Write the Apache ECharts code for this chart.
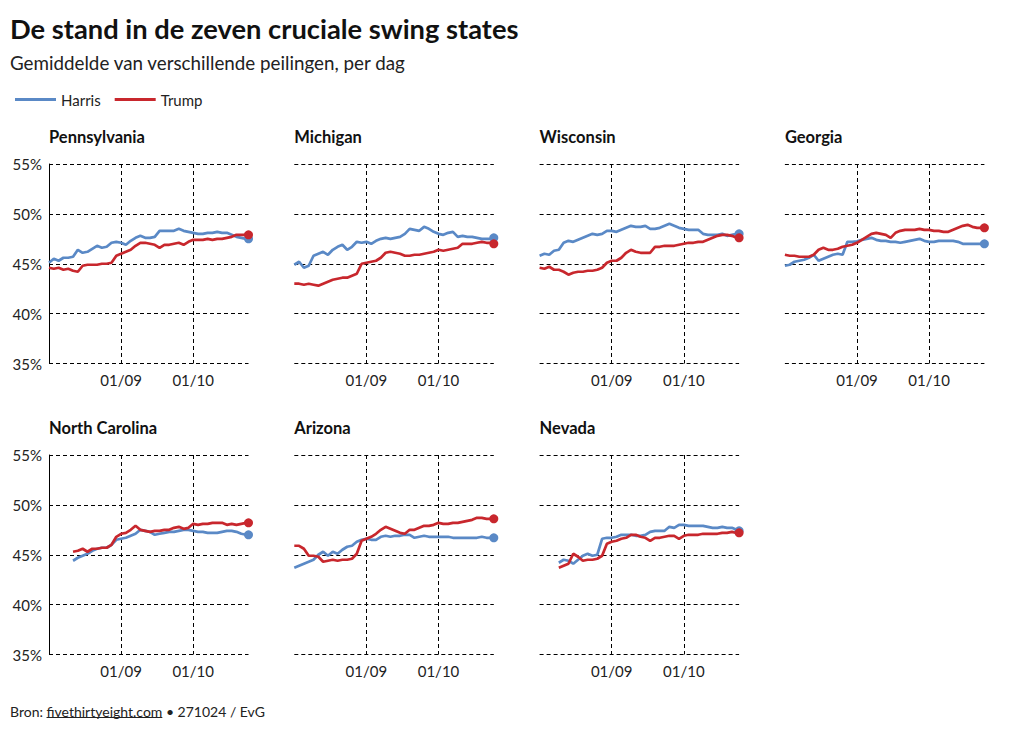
<!DOCTYPE html>
<html><head><meta charset="utf-8">
<script src="https://cdn.jsdelivr.net/npm/echarts@6/dist/echarts.min.js"></script>
<style>html,body{margin:0;padding:0;background:#fff}#chart{width:1020px;height:731px}</style>
</head><body><div id="chart"></div>
<script>
// ---- DATA ----
const dates = [
 '2024-08-02','2024-08-04','2024-08-06','2024-08-08','2024-08-10','2024-08-12','2024-08-14','2024-08-16','2024-08-18','2024-08-20',
 '2024-08-22','2024-08-24','2024-08-26','2024-08-28','2024-08-30','2024-09-01','2024-09-03','2024-09-05','2024-09-07','2024-09-09',
 '2024-09-11','2024-09-13','2024-09-15','2024-09-17','2024-09-19','2024-09-21','2024-09-23','2024-09-25','2024-09-27','2024-09-29',
 '2024-10-01','2024-10-03','2024-10-05','2024-10-07','2024-10-09','2024-10-11','2024-10-13','2024-10-15','2024-10-17','2024-10-19',
 '2024-10-21','2024-10-23','2024-10-24'];
const states = ['Pennsylvania','Michigan','Wisconsin','Georgia','North Carolina','Arizona','Nevada'];
const yTicks = [35, 40, 45, 50, 55];
const xTickLabels = ['01/09', '01/10'];

const harrisPA = [45.1,45.5,45.3,45.6,45.6,45.7,46.4,46.1,46.2,46.5, 46.8,46.6,46.7,47.1,47.2,47.1,46.9,47.3,47.6,47.8, 47.6,47.6,47.7,48.3,48.3,48.3,48.3,48.5,48.3,48.2, 48.1,48.0,48.0,48.1,48.1,48.2,48.1,48.1,47.9,47.7, 47.6,47.5,47.5];
const trumpPA  = [44.6,44.5,44.6,44.4,44.5,44.3,44.2,44.8,44.9,44.9, 44.9,45.0,45.0,45.1,45.8,46.0,46.2,46.4,46.8,47.1, 47.1,47.0,46.9,46.6,46.9,46.9,47.0,47.1,46.9,47.2, 47.4,47.4,47.4,47.5,47.4,47.5,47.5,47.6,47.7,47.9, 47.9,47.9,47.9];
const harrisMI = [44.9,45.2,44.6,44.8,45.8,46.0,46.2,45.9,46.4,46.7, 46.9,46.4,46.7,47.2,47.1,47.2,47.0,47.3,47.5,47.6, 47.5,47.6,47.7,48.0,48.5,48.4,48.3,48.7,48.5,48.2, 48.0,47.9,48.1,48.2,47.7,47.8,47.7,47.7,47.6,47.5, 47.5,47.5,47.6];
const trumpMI  = [43.0,43.0,42.9,43.0,42.9,42.8,43.0,43.2,43.4,43.5, 43.6,43.6,43.8,44.0,45.0,45.1,45.2,45.3,45.6,46.1, 46.2,46.1,46.0,45.8,45.8,45.9,45.9,46.0,46.1,46.2, 46.4,46.3,46.4,46.5,46.6,47.0,47.0,47.0,47.1,47.2, 47.1,47.1,47.0];
const harrisWI = [45.8,46.0,45.9,46.3,46.4,47.1,47.3,47.2,47.4,47.6, 47.8,48.0,47.9,48.0,48.3,48.3,48.2,48.4,48.6,48.8, 48.7,48.7,48.8,48.5,48.5,48.6,48.8,49.0,48.8,48.6, 48.5,48.4,48.4,48.4,48.0,47.9,47.9,47.9,48.0,47.8, 47.9,48.0,48.0];
const trumpWI  = [44.6,44.5,44.7,44.4,44.4,44.2,43.9,44.1,44.2,44.2, 44.3,44.3,44.4,44.6,45.1,45.3,45.3,45.6,46.1,46.4, 46.2,46.1,46.1,46.1,46.7,46.7,46.8,46.8,46.8,46.9, 47.0,47.1,47.1,47.2,47.2,47.4,47.6,47.8,47.9,47.9, 47.8,47.6,47.6];
const harrisGA = [44.8,44.9,45.2,45.3,45.4,45.6,45.9,45.3,45.5,45.7, 45.9,46.0,45.9,47.2,47.2,47.25,47.4,47.5,47.6,47.4, 47.3,47.3,47.2,47.2,47.1,47.2,47.3,47.4,47.5,47.3, 47.2,47.2,47.3,47.3,47.3,47.3,47.2,47.0,47.0,47.0, 47.0,47.0,47.0];
const trumpGA  = [45.9,45.8,45.8,45.7,45.7,45.7,45.9,46.4,46.6,46.4, 46.4,46.5,46.7,46.8,46.9,47.1,47.4,47.7,48.0,48.1, 48.0,47.9,47.6,48.1,48.3,48.4,48.4,48.4,48.5,48.4, 48.4,48.3,48.3,48.2,48.2,48.4,48.6,48.8,48.9,48.7, 48.6,48.6,48.6];
const harrisNC = [null,null,null,null,null,44.4,44.7,44.9,45.1,45.4, 45.6,45.7,45.7,46.0,46.5,46.6,46.7,46.9,47.1,47.5, 47.4,47.3,47.0,47.1,47.2,47.3,47.3,47.4,47.5,47.5, 47.4,47.3,47.3,47.2,47.2,47.2,47.3,47.4,47.4,47.3, 47.1,47.0,47.0];
const trumpNC  = [null,null,null,null,null,45.3,45.4,45.6,45.3,45.6, 45.6,45.7,45.7,46.0,46.8,47.1,47.2,47.5,47.9,47.5, 47.4,47.3,47.4,47.4,47.5,47.5,47.7,47.8,47.6,47.7, 48.1,48.0,48.1,48.1,48.2,48.2,48.2,48.0,48.1,48.0, 48.1,48.2,48.2];
const harrisAZ = [43.7,43.9,44.1,44.3,44.5,45.0,45.3,44.9,45.3,45.1, 45.5,45.8,45.9,46.3,46.5,46.6,46.5,46.5,46.8,46.9, 46.8,46.9,46.9,47.0,47.0,46.7,46.8,46.9,46.8,46.8, 46.8,46.8,46.8,46.7,46.7,46.7,46.7,46.7,46.7,46.8, 46.7,46.7,46.7];
const trumpAZ  = [45.9,45.9,45.6,44.9,44.9,44.8,44.3,44.4,44.5,44.4, 44.5,44.5,44.6,45.1,46.4,46.6,46.8,47.1,47.5,47.8, 47.6,47.4,47.2,47.1,47.5,47.5,47.7,47.9,47.9,48.0, 48.2,48.1,48.1,48.2,48.2,48.3,48.4,48.5,48.7,48.7, 48.6,48.6,48.6];
const harrisNV = [null,null,null,null,44.2,44.5,44.4,44.1,44.5,44.9, 45.1,44.9,45.0,46.6,46.7,46.7,46.8,47.0,47.0,47.0, 46.9,46.9,47.0,47.3,47.4,47.4,47.4,47.8,47.7,48.0, 48.0,47.9,47.9,47.9,47.9,47.8,47.7,47.7,47.8,47.7, 47.7,47.5,47.4];
const trumpNV  = [null,null,null,null,43.7,43.9,44.1,45.1,44.8,44.4, 44.5,44.5,44.6,44.9,46.1,46.3,46.4,46.6,46.7,47.0, 47.0,46.8,46.7,46.4,46.7,46.7,46.8,46.9,46.9,46.6, 46.9,47.0,47.0,47.0,47.1,47.1,47.1,47.1,47.2,47.2, 47.3,47.2,47.2];

const harrisByState = [harrisPA, harrisMI, harrisWI, harrisGA, harrisNC, harrisAZ, harrisNV];
const trumpByState  = [trumpPA, trumpMI, trumpWI, trumpGA, trumpNC, trumpAZ, trumpNV];

// ---- STYLE / LAYOUT ----
const FONT = 'Lato, "Noto Sans", sans-serif';
const BLUE = '#5a89c6', RED = '#c8272d';
const colLeft = [49, 294.3, 539.6, 784.9];
const rowTop = [164, 455];
const W = 199.5, H = 199.5;

const el = document.getElementById('chart');
const chart = echarts.init(el, null, { renderer: 'svg' });

const grids = [], xAxes = [], yAxes = [], series = [], graphics = [];
const lastIdx = dates.length - 1;
function toData(arr) { return dates.map((d, k) => [d, arr[k] == null ? '-' : arr[k]]); }

states.forEach((name, i) => {
  const c = i % 4, r = Math.floor(i / 4);
  grids.push({ left: colLeft[c], top: rowTop[r], width: W, height: H });
  xAxes.push({
    type: 'time', gridIndex: i, min: dates[0], max: dates[lastIdx],
    minInterval: 28 * 86400000, maxInterval: 31 * 86400000,
    axisLine: { show: false }, axisTick: { show: false },
    splitLine: { show: true, showMinLine: false, showMaxLine: false, lineStyle: { color: '#000', type: [4, 3], width: 1 } },
    axisLabel: {
      color: '#222', fontSize: 15, fontFamily: FONT, margin: 9,
      formatter: function (v) {
        const d = new Date(v);
        const s = String(d.getDate()).padStart(2, '0') + '/' + String(d.getMonth() + 1).padStart(2, '0');
        return xTickLabels.indexOf(s) >= 0 ? s : '';
      }
    }
  });
  yAxes.push({
    type: 'value', gridIndex: i, min: yTicks[0], max: yTicks[yTicks.length - 1], interval: 5,
    axisLine: { show: c === 0, lineStyle: { color: '#000', width: 1 } },
    axisTick: { show: false },
    axisLabel: { show: c === 0, formatter: '{value}%', color: '#222', fontSize: 15, fontFamily: FONT, margin: 7 },
    splitLine: { show: true, lineStyle: { color: '#000', type: [4, 3], width: 1 } }
  });
  [['Harris', harrisByState[i], BLUE], ['Trump', trumpByState[i], RED]].forEach(([nm, arr, col]) => {
    series.push({
      type: 'line', name: nm, xAxisIndex: i, yAxisIndex: i, data: toData(arr),
      color: col, lineStyle: { width: 2.7, color: col }, itemStyle: { color: col },
      symbol: 'circle', showSymbol: true, showAllSymbol: true,
      symbolSize: (v, p) => (p.dataIndex === lastIdx ? 9 : 0),
      silent: true, animation: false, emphasis: { disabled: true }
    });
  });
  graphics.push({
    type: 'text', x: colLeft[c], y: r === 0 ? 137 : 428, silent: true,
    style: { text: name, fontSize: 16.5, fontWeight: 'bold', fontFamily: FONT, fill: '#111', verticalAlign: 'middle' }
  });
});

graphics.push({ type: 'text', x: 10, y: 28, silent: true,
  style: { text: 'De stand in de zeven cruciale swing states', fontSize: 27.3, fontWeight: 'bold', fontFamily: FONT, fill: '#111', verticalAlign: 'middle' } });
graphics.push({ type: 'text', x: 10, y: 62, silent: true,
  style: { text: 'Gemiddelde van verschillende peilingen, per dag', fontSize: 18.8, fontFamily: FONT, fill: '#222', verticalAlign: 'middle' } });

const footPre = 'Bron: ', footLink = 'fivethirtyeight.com', footPost = ' \u2022 271024 / EvG';
graphics.push({ type: 'text', x: 10, y: 711, silent: true,
  style: { text: footPre + footLink + footPost, fontSize: 14, fontFamily: FONT, fill: '#222', verticalAlign: 'middle' } });
const ctx = document.createElement('canvas').getContext('2d');
ctx.font = '14px ' + FONT;
const x1 = 10 + ctx.measureText(footPre).width, x2 = x1 + ctx.measureText(footLink).width;
graphics.push({ type: 'line', silent: true, shape: { x1: x1, y1: 717.5, x2: x2, y2: 717.5 }, style: { stroke: '#222', lineWidth: 1 } });

chart.setOption({
  backgroundColor: '#fff',
  animation: false,
  legend: {
    data: ['Harris', 'Trump'], left: 10, top: 87, icon: 'rect', itemWidth: 41, itemHeight: 3, itemGap: 14,
    textStyle: { fontSize: 15, color: '#222', fontFamily: FONT }, selectedMode: false
  },
  grid: grids, xAxis: xAxes, yAxis: yAxes, series: series, graphic: graphics
});
</script></body></html>
